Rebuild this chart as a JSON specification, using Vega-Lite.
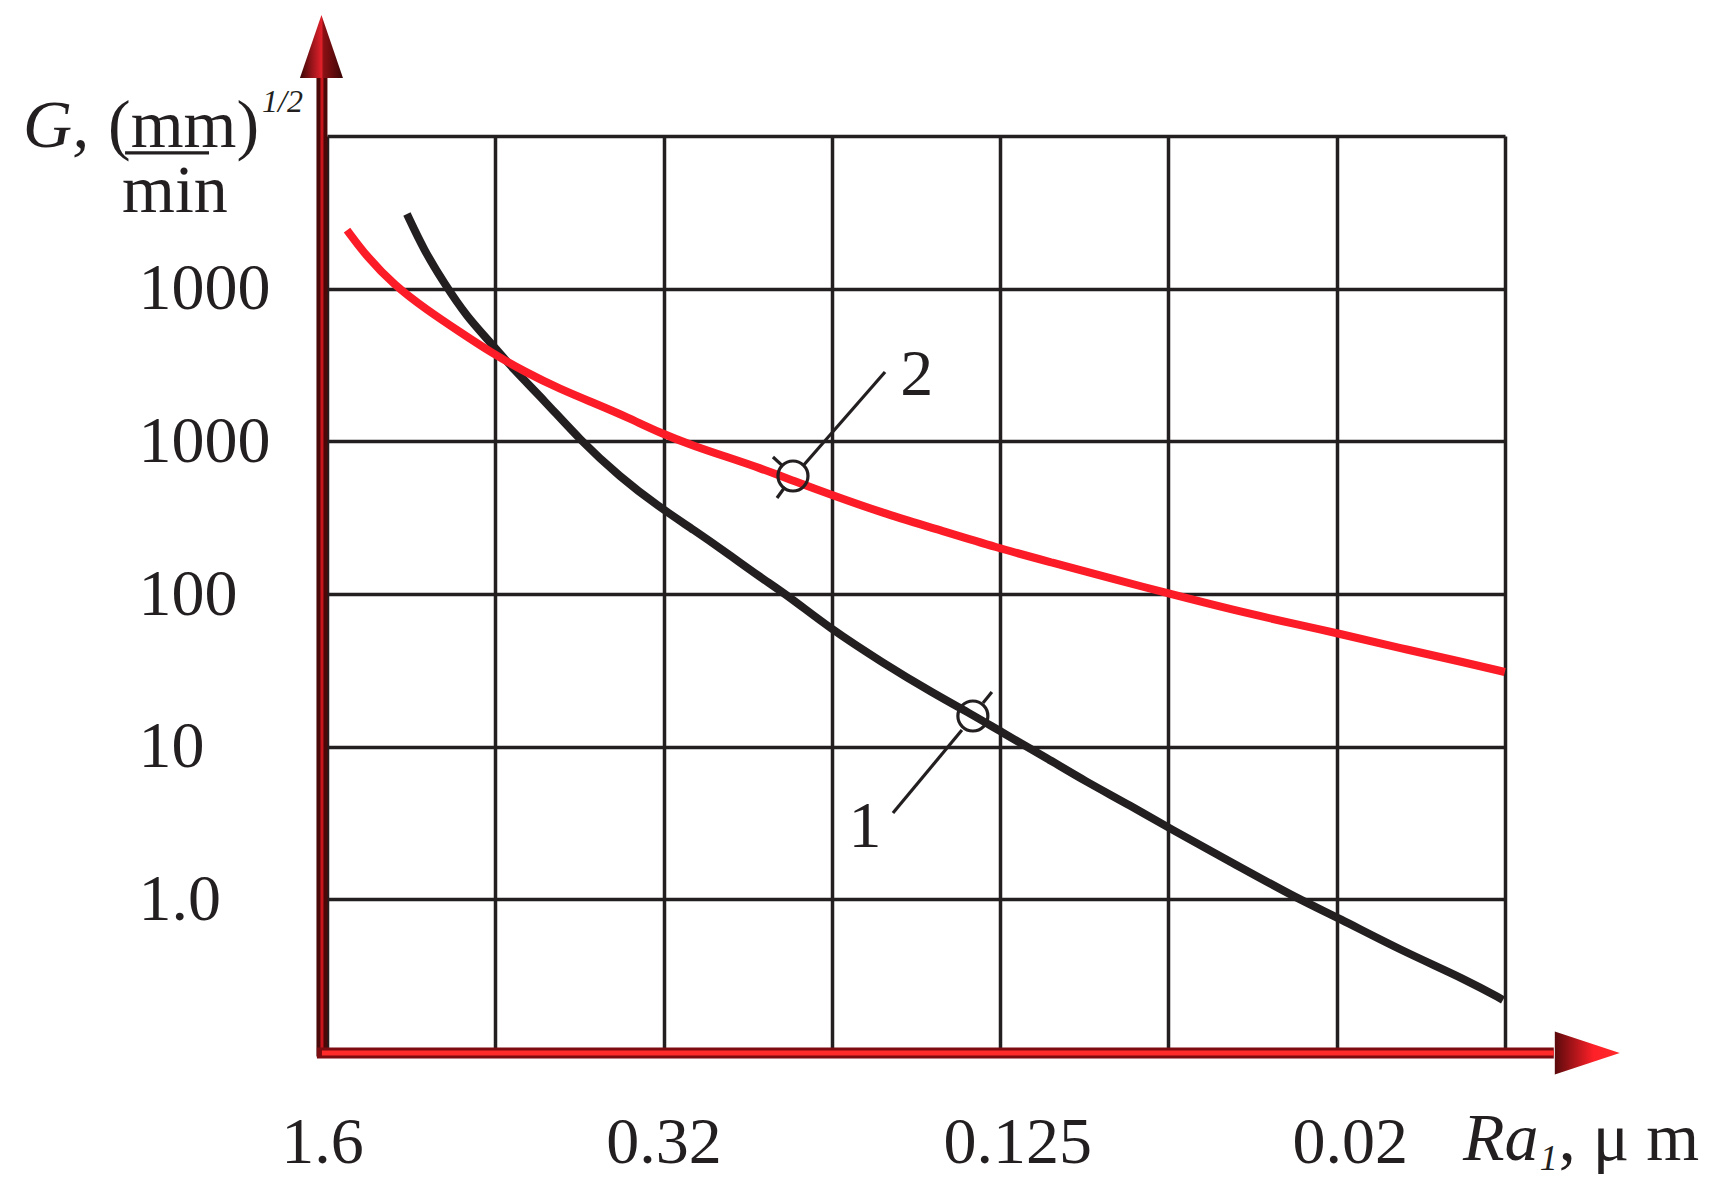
{
  "$schema": "https://vega.github.io/schema/vega-lite/v6.json",
  "width": 1178,
  "height": 916,
  "autosize": {"type": "none"},
  "padding": {"left": 327, "top": 136, "right": 205, "bottom": 141},
  "background": "white",
  "config": {
    "view": {"stroke": null},
    "font": "Liberation Serif",
    "text": {"font": "Liberation Serif", "color": "#231f20"}
  },
  "datasets": {
    "curves": [
      {"curve": "1", "x": 0.475, "y": 5.489},
      {"curve": "1", "x": 0.576, "y": 5.253},
      {"curve": "1", "x": 0.695, "y": 5.037},
      {"curve": "1", "x": 0.832, "y": 4.814},
      {"curve": "1", "x": 0.969, "y": 4.651},
      {"curve": "1", "x": 1.111, "y": 4.467},
      {"curve": "1", "x": 1.289, "y": 4.271},
      {"curve": "1", "x": 1.503, "y": 4.009},
      {"curve": "1", "x": 1.741, "y": 3.766},
      {"curve": "1", "x": 1.973, "y": 3.570},
      {"curve": "1", "x": 2.181, "y": 3.419},
      {"curve": "1", "x": 2.377, "y": 3.268},
      {"curve": "1", "x": 2.573, "y": 3.111},
      {"curve": "1", "x": 2.751, "y": 2.980},
      {"curve": "1", "x": 2.977, "y": 2.784},
      {"curve": "1", "x": 3.304, "y": 2.548},
      {"curve": "1", "x": 3.601, "y": 2.351},
      {"curve": "1", "x": 3.838, "y": 2.207},
      {"curve": "1", "x": 3.987, "y": 2.109},
      {"curve": "1", "x": 4.296, "y": 1.913},
      {"curve": "1", "x": 4.492, "y": 1.782},
      {"curve": "1", "x": 4.789, "y": 1.605},
      {"curve": "1", "x": 4.991, "y": 1.474},
      {"curve": "1", "x": 5.383, "y": 1.238},
      {"curve": "1", "x": 5.781, "y": 0.996},
      {"curve": "1", "x": 6.001, "y": 0.884},
      {"curve": "1", "x": 6.376, "y": 0.668},
      {"curve": "1", "x": 6.774, "y": 0.472},
      {"curve": "1", "x": 6.988, "y": 0.341},
      {"curve": "2", "x": 0.119, "y": 5.384},
      {"curve": "2", "x": 0.238, "y": 5.207},
      {"curve": "2", "x": 0.398, "y": 5.024},
      {"curve": "2", "x": 0.594, "y": 4.860},
      {"curve": "2", "x": 0.790, "y": 4.716},
      {"curve": "2", "x": 0.969, "y": 4.585},
      {"curve": "2", "x": 1.188, "y": 4.448},
      {"curve": "2", "x": 1.384, "y": 4.343},
      {"curve": "2", "x": 1.586, "y": 4.251},
      {"curve": "2", "x": 1.783, "y": 4.159},
      {"curve": "2", "x": 1.979, "y": 4.055},
      {"curve": "2", "x": 2.181, "y": 3.969},
      {"curve": "2", "x": 2.377, "y": 3.897},
      {"curve": "2", "x": 2.573, "y": 3.825},
      {"curve": "2", "x": 2.775, "y": 3.740},
      {"curve": "2", "x": 2.982, "y": 3.655},
      {"curve": "2", "x": 3.304, "y": 3.530},
      {"curve": "2", "x": 3.601, "y": 3.432},
      {"curve": "2", "x": 3.987, "y": 3.301},
      {"curve": "2", "x": 4.296, "y": 3.210},
      {"curve": "2", "x": 4.694, "y": 3.092},
      {"curve": "2", "x": 4.991, "y": 3.006},
      {"curve": "2", "x": 5.383, "y": 2.895},
      {"curve": "2", "x": 5.781, "y": 2.797},
      {"curve": "2", "x": 6.001, "y": 2.744},
      {"curve": "2", "x": 6.376, "y": 2.646},
      {"curve": "2", "x": 6.774, "y": 2.548},
      {"curve": "2", "x": 6.999, "y": 2.489}
    ],
    "rings": [
      {"curve": "1", "x": 3.838, "y": 2.201},
      {"curve": "2", "x": 2.769, "y": 3.773}
    ],
    "strokes": [
      {"part": "leader 2", "x": 2.828, "y": 3.838, "x2": 3.316, "y2": 4.454},
      {"part": "leader 2 tail", "x": 2.721, "y": 3.701, "x2": 2.674, "y2": 3.629},
      {"part": "leader 2 tick", "x": 2.650, "y": 3.897, "x2": 2.709, "y2": 3.838},
      {"part": "leader 1", "x": 3.773, "y": 2.109, "x2": 3.363, "y2": 1.565},
      {"part": "leader 1 tick", "x": 3.898, "y": 2.286, "x2": 3.951, "y2": 2.358},
      {"part": "fraction bar", "x": -1.200, "y": 5.889, "x2": -0.701, "y2": 5.889}
    ],
    "notes": [
      {"kind": "italic", "text": "G,", "x": -1.806, "y": 5.928},
      {"kind": "upright", "text": "(mm)", "x": -1.301, "y": 5.928},
      {"kind": "upright", "text": "min", "x": -1.218, "y": 5.502},
      {"kind": "sup", "text": "1/2", "x": -0.386, "y": 6.157},
      {"kind": "italic", "text": "Ra", "x": 6.750, "y": -0.707},
      {"kind": "sub", "text": "1", "x": 7.207, "y": -0.773},
      {"kind": "upright", "text": ", μ m", "x": 7.320, "y": -0.707},
      {"kind": "curve", "text": "2", "x": 3.505, "y": 4.303},
      {"kind": "curve", "text": "1", "x": 3.197, "y": 1.343}
    ],
    "one": [{}]
  },
  "layer": [
    {
      "data": {"name": "curves"},
      "mark": {"type": "line", "strokeWidth": 8, "interpolate": "basis", "strokeCap": "butt"},
      "encoding": {
        "x": {
          "field": "x", "type": "quantitative",
          "scale": {"domain": [0, 7], "nice": false, "zero": false},
          "axis": {
            "values": [0, 1, 2, 3, 4, 5, 6, 7],
            "grid": true, "gridColor": "#231f20", "gridWidth": 3.5, "gridOpacity": 1,
            "domain": false, "ticks": false, "tickSize": 0,
            "labelExpr": "datum.value == 0 ? '1.6' : datum.value == 2 ? '0.32' : datum.value == 4 ? '0.125' : datum.value == 6 ? '0.02' : ''",
            "labelFont": "Liberation Serif", "labelFontSize": 66, "labelColor": "#231f20",
            "labelPadding": 90, "labelBaseline": "middle", "labelAlign": "center",
            "labelOffset": {"condition": [{"test": "datum.value == 0", "value": -5}, {"test": "datum.value == 4", "value": 17}, {"test": "datum.value == 6", "value": 13}], "value": 0},
            "labelOverlap": false, "labelFlush": false, "labelBound": false,
            "title": null
          }
        },
        "y": {
          "field": "y", "type": "quantitative",
          "scale": {"domain": [0, 6], "nice": false, "zero": false},
          "axis": {
            "values": [0, 1, 2, 3, 4, 5, 6],
            "grid": true, "gridColor": "#231f20", "gridWidth": 3.5, "gridOpacity": 1,
            "domain": false, "ticks": false, "tickSize": 0,
            "labelExpr": "datum.value == 1 ? '1.0' : datum.value == 2 ? '10' : datum.value == 3 ? '100' : (datum.value == 4 || datum.value == 5) ? '1000' : ''",
            "labelFont": "Liberation Serif", "labelFontSize": 66, "labelColor": "#231f20",
            "labelPadding": 189, "labelBaseline": "middle", "labelAlign": "left",
            "labelOverlap": false, "labelFlush": false, "labelBound": false,
            "title": null
          }
        },
        "color": {"field": "curve", "type": "nominal", "scale": {"domain": ["1", "2"], "range": ["#231f20", "#fb1c27"]}, "legend": null}
      }
    },
    {
      "data": {"name": "strokes"},
      "mark": {"type": "rule", "stroke": "#231f20", "strokeWidth": 3.2},
      "encoding": {
        "x": {"field": "x", "type": "quantitative"},
        "y": {"field": "y", "type": "quantitative"},
        "x2": {"field": "x2"},
        "y2": {"field": "y2"}
      }
    },
    {
      "data": {"name": "rings"},
      "mark": {"type": "point", "shape": "circle", "filled": false, "stroke": "#231f20", "strokeWidth": 3.2, "size": 900, "opacity": 1},
      "encoding": {
        "x": {"field": "x", "type": "quantitative"},
        "y": {"field": "y", "type": "quantitative"}
      }
    },
    {
      "data": {"name": "one"},
      "mark": {"type": "rule", "stroke": "#4a0808", "strokeWidth": 11},
      "encoding": {
        "x": {"datum": -0.03, "type": "quantitative"},
        "y": {"datum": -0.03, "type": "quantitative"},
        "y2": {"datum": 6.39}
      }
    },
    {
      "data": {"name": "one"},
      "mark": {"type": "rule", "stroke": "#c8141c", "strokeWidth": 3},
      "encoding": {
        "x": {"datum": -0.03, "type": "quantitative"},
        "y": {"datum": -0.03, "type": "quantitative"},
        "y2": {"datum": 6.39}
      }
    },
    {
      "data": {"name": "one"},
      "mark": {"type": "rule", "stroke": "#7d0c10", "strokeWidth": 11},
      "encoding": {
        "x": {"datum": -0.06, "type": "quantitative"},
        "x2": {"datum": 7.29},
        "y": {"datum": -0.007, "type": "quantitative"}
      }
    },
    {
      "data": {"name": "one"},
      "mark": {"type": "rule", "stroke": "#ff2a2a", "strokeWidth": 5},
      "encoding": {
        "x": {"datum": -0.03, "type": "quantitative"},
        "x2": {"datum": 7.29},
        "y": {"datum": -0.007, "type": "quantitative"}
      }
    },
    {
      "data": {"name": "one"},
      "mark": {
        "type": "point", "shape": "M0,-1L0.683,1L-0.683,1Z", "size": 3969, "filled": true, "opacity": 1, "strokeWidth": 0,
        "fill": {"gradient": "linear", "x1": 0, "y1": 0, "x2": 1, "y2": 0, "stops": [{"offset": 0, "color": "#3a0606"}, {"offset": 0.5, "color": "#e0202a"}, {"offset": 0.55, "color": "#8a1014"}, {"offset": 1, "color": "#3a0606"}]}
      },
      "encoding": {
        "x": {"datum": -0.033, "type": "quantitative"},
        "y": {"datum": 6.586, "type": "quantitative"}
      }
    },
    {
      "data": {"name": "one"},
      "mark": {
        "type": "point", "shape": "M1,0L-1,0.66L-1,-0.66Z", "size": 4225, "filled": true, "opacity": 1, "strokeWidth": 0,
        "fill": {"gradient": "linear", "x1": 0, "y1": 0, "x2": 1, "y2": 0, "stops": [{"offset": 0, "color": "#5a0a0c"}, {"offset": 0.6, "color": "#ff2028"}, {"offset": 1, "color": "#ff2a2a"}]}
      },
      "encoding": {
        "x": {"datum": 7.489, "type": "quantitative"},
        "y": {"datum": -0.007, "type": "quantitative"}
      }
    },
    {
      "data": {"name": "notes"},
      "transform": [{"filter": "datum.kind == 'italic'"}],
      "mark": {"type": "text", "font": "Liberation Serif", "fontSize": 68, "fontStyle": "italic", "align": "left", "baseline": "alphabetic", "color": "#231f20"},
      "encoding": {
        "x": {"field": "x", "type": "quantitative"},
        "y": {"field": "y", "type": "quantitative"},
        "text": {"field": "text"}
      }
    },
    {
      "data": {"name": "notes"},
      "transform": [{"filter": "datum.kind == 'upright'"}],
      "mark": {"type": "text", "font": "Liberation Serif", "fontSize": 68, "align": "left", "baseline": "alphabetic", "color": "#231f20"},
      "encoding": {
        "x": {"field": "x", "type": "quantitative"},
        "y": {"field": "y", "type": "quantitative"},
        "text": {"field": "text"}
      }
    },
    {
      "data": {"name": "notes"},
      "transform": [{"filter": "datum.kind == 'sup'"}],
      "mark": {"type": "text", "font": "Liberation Serif", "fontSize": 32, "fontStyle": "italic", "align": "left", "baseline": "alphabetic", "color": "#231f20"},
      "encoding": {
        "x": {"field": "x", "type": "quantitative"},
        "y": {"field": "y", "type": "quantitative"},
        "text": {"field": "text"}
      }
    },
    {
      "data": {"name": "notes"},
      "transform": [{"filter": "datum.kind == 'sub'"}],
      "mark": {"type": "text", "font": "Liberation Serif", "fontSize": 36, "fontStyle": "italic", "align": "left", "baseline": "alphabetic", "color": "#231f20"},
      "encoding": {
        "x": {"field": "x", "type": "quantitative"},
        "y": {"field": "y", "type": "quantitative"},
        "text": {"field": "text"}
      }
    },
    {
      "data": {"name": "notes"},
      "transform": [{"filter": "datum.kind == 'curve'"}],
      "mark": {"type": "text", "font": "Liberation Serif", "fontSize": 66, "align": "center", "baseline": "alphabetic", "color": "#231f20"},
      "encoding": {
        "x": {"field": "x", "type": "quantitative"},
        "y": {"field": "y", "type": "quantitative"},
        "text": {"field": "text"}
      }
    }
  ]
}
